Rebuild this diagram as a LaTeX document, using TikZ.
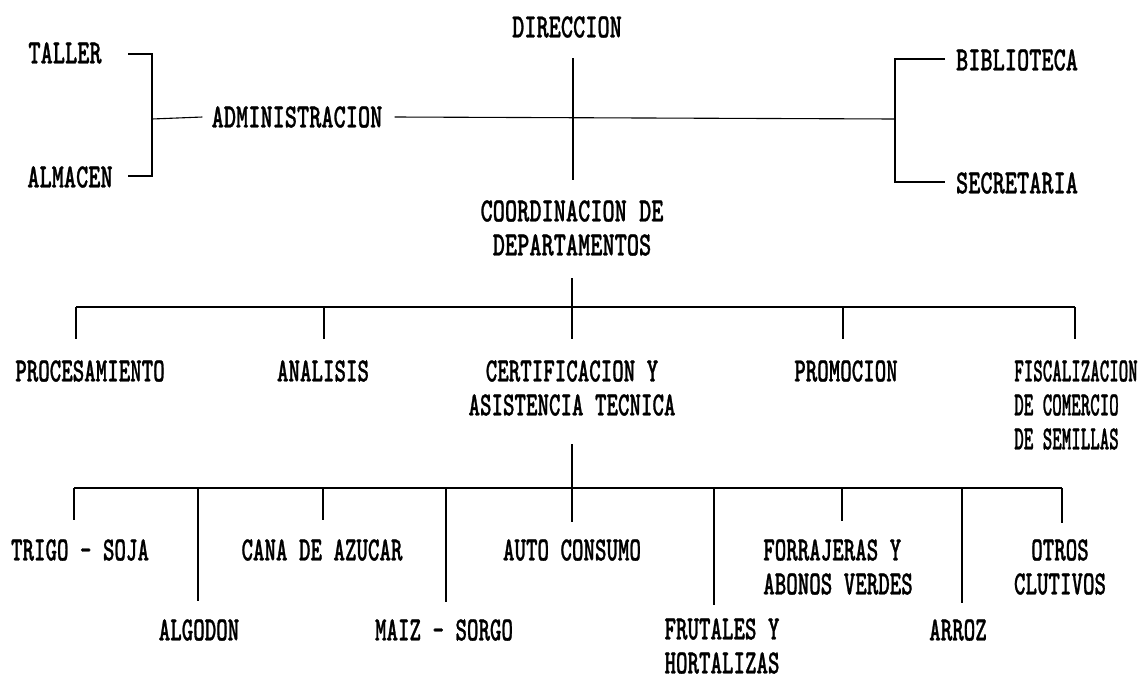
\documentclass[tikz,border=0pt]{standalone}
\usepackage{fontspec}
\newfontfamily\topfont[Extension=.otf,FakeStretch=0.683,FakeBold=0.8]{lmmonolt10-bold}
\newfontfamily\lowfont[Extension=.otf,FakeStretch=0.644,FakeBold=0.8]{lmmonolt10-bold}
\newfontfamily\narrowfont[Extension=.otf,FakeStretch=0.532,FakeBold=0.8]{lmmonolt10-bold}
\tikzset{
  toptext/.style={inner sep=0pt, font=\topfont\fontsize{34}{34}\selectfont, align=center},
  lowtext/.style={inner sep=0pt, font=\lowfont\fontsize{34}{34}\selectfont, align=center},
  lowleft/.style={lowtext, align=left},
  fisctext/.style={inner sep=0pt, font=\narrowfont\fontsize{34}{34}\selectfont, align=left},
  link/.style={line width=1.1pt, black},
}
\begin{document}
\begin{tikzpicture}[x=1pt,y=-1pt]
\useasboundingbox (0,0) rectangle (1140,683);
% ---------- top level ----------
\node[toptext] (dir) at (567,27) {DIRECCION};
\node[toptext] (admin) at (297,117) {ADMINISTRACION};
\node[toptext] (taller) at (65,53) {TALLER};
\node[toptext] (almacen) at (70,177) {ALMACEN};
\node[toptext] (biblio) at (1017,60) {BIBLIOTECA};
\node[toptext] (secre) at (1017,183) {SECRETARIA};
\node[toptext] (coord) at (572,228) {COORDINACION DE\\DEPARTAMENTOS};

\coordinate (tlA) at (128,54);
\coordinate (tlB) at (128,176);
\coordinate (jl) at (152,119);
\coordinate (jr) at (895,119);
\coordinate (brA) at (945,59);
\coordinate (brB) at (945,182);
\coordinate (dirTop) at (573,58);
\coordinate (dirBot) at (573,180);

\draw[link] (tlA) -| (jl) |- (tlB);
\draw[link] (jl) -- ([xshift=-9pt]admin.west);
\draw[link] ([xshift=12pt]admin.east) -- (jr);
\draw[link] (brA) -| (jr) |- (brB);
\draw[link] (dirTop) -- (dirBot);

% ---------- level 2 ----------
\node[lowtext] (proc) at (90,371) {PROCESAMIENTO};
\node[lowtext] (anal) at (323,371) {ANALISIS};
\node[lowtext] (cert) at (572,388) {CERTIFICACION Y\\ASISTENCIA TECNICA};
\node[lowtext] (prom) at (846,371) {PROMOCION};
\node[fisctext] (fisc) at (1076,405) {FISCALIZACION\\DE COMERCIO\\DE SEMILLAS};

\coordinate (c2top) at (572,278);
\coordinate (b2a) at (76,307);
\coordinate (b2b) at (324,307);
\coordinate (b2d) at (843,307);
\coordinate (b2e) at (1075,307);
\coordinate (d2a) at (76,339);
\coordinate (d2b) at (324,339);
\coordinate (d2c) at (572,339);
\coordinate (d2d) at (843,339);
\coordinate (d2e) at (1075,339);

\draw[link] (b2a) -- (b2e);
\draw[link] (c2top) -- (d2c);
\draw[link] (b2a) -- (d2a);
\draw[link] (b2b) -- (d2b);
\draw[link] (b2d) -- (d2d);
\draw[link] (b2e) -- (d2e);

% ---------- level 3 ----------
\node[lowtext] (trigo) at (80,550) {TRIGO - SOJA};
\node[lowtext] (cana) at (322,550) {CANA DE AZUCAR};
\node[lowtext] (auto) at (572,550) {AUTO CONSUMO};
\node[lowleft] (forr) at (838,567) {FORRAJERAS Y\\ABONOS VERDES};
\node[lowtext] (otros) at (1060,567) {OTROS\\CLUTIVOS};
\node[lowtext] (algo) at (199,630) {ALGODON};
\node[lowtext] (maiz) at (444,630) {MAIZ - SORGO};
\node[lowleft] (frut) at (722,646) {FRUTALES Y\\HORTALIZAS};
\node[lowtext] (arroz) at (958,630) {ARROZ};

\coordinate (c3top) at (572,444);
\coordinate (b3a) at (74,488);
\coordinate (b3b) at (198,488);
\coordinate (b3c) at (323,488);
\coordinate (b3d) at (446,488);
\coordinate (b3f) at (714,488);
\coordinate (b3g) at (842,488);
\coordinate (b3h) at (962,488);
\coordinate (b3i) at (1062,488);
\coordinate (d3a) at (74,520);
\coordinate (d3b) at (198,601);
\coordinate (d3c) at (323,520);
\coordinate (d3d) at (446,602);
\coordinate (d3e) at (572,522);
\coordinate (d3f) at (714,605);
\coordinate (d3g) at (842,521);
\coordinate (d3h) at (962,603);
\coordinate (d3i) at (1062,523);

\draw[link] (b3a) -- (b3i);
\draw[link] (c3top) -- (d3e);
\draw[link] (b3a) -- (d3a);
\draw[link] (b3b) -- (d3b);
\draw[link] (b3c) -- (d3c);
\draw[link] (b3d) -- (d3d);
\draw[link] (b3f) -- (d3f);
\draw[link] (b3g) -- (d3g);
\draw[link] (b3h) -- (d3h);
\draw[link] (b3i) -- (d3i);
\end{tikzpicture}
\end{document}
